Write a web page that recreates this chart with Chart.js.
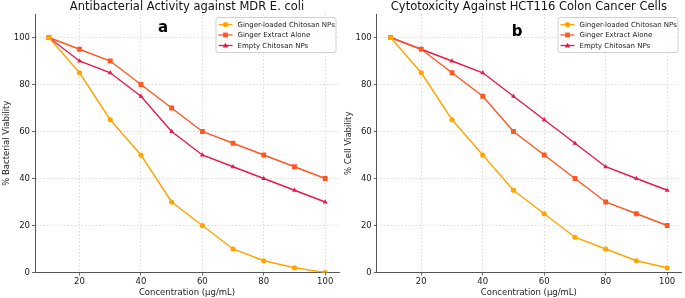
<!DOCTYPE html>
<html>
<head>
<meta charset="utf-8">
<script src="https://cdn.jsdelivr.net/npm/chart.js@4/dist/chart.umd.min.js"></script>
<style>
  html, body { margin: 0; padding: 0; background: #fff; }
  .wrap { position: relative; width: 685px; height: 298px; }
  .panel { position: absolute; top: 0; width: 343px; height: 298px; }
  #pa { left: 0; }
  #pb { left: 342px; }
</style>
</head>
<body>
<div class="wrap">
  <div class="panel" id="pa"><canvas id="chartA"></canvas></div>
  <div class="panel" id="pb"><canvas id="chartB"></canvas></div>
</div>
<script>
// concentrations (ug/mL)
var concentrations = [10, 20, 30, 40, 50, 60, 70, 80, 90, 100];
var xTicks = [20, 40, 60, 80, 100];
var yTicks = [0, 20, 40, 60, 80, 100];
var seriesNames = ['Ginger-loaded Chitosan NPs', 'Ginger Extract Alone', 'Empty Chitosan NPs'];

// panel a - antibacterial
var bactLoaded  = [100, 85, 65, 50, 30, 20, 10, 5, 2, 0];
var bactExtract = [100, 95, 90, 80, 70, 60, 55, 50, 45, 40];
var bactEmpty   = [100, 90, 85, 75, 60, 50, 45, 40, 35, 30];

// panel b - cytotoxicity
var cellLoaded  = [100, 85, 65, 50, 35, 25, 15, 10, 5, 2];
var cellExtract = [100, 95, 85, 75, 60, 50, 40, 30, 25, 20];
var cellEmpty   = [100, 95, 90, 85, 75, 65, 55, 45, 40, 35];

var colors = ['#FFA500', '#FF5722', '#E8194B'];
var markers = ['circle', 'rect', 'triangle'];
var radii = [2.6, 3.4, 2.8];
var FONT = "'DejaVu Sans', sans-serif";

function pts(vals) {
  return concentrations.map(function(c, i) { return { x: c, y: vals[i] }; });
}

function drawMarker(ctx, style, x, y, r, col) {
  ctx.fillStyle = col;
  ctx.beginPath();
  if (style === 'circle') {
    ctx.arc(x, y, r, 0, Math.PI * 2);
  } else if (style === 'rect') {
    var s = r * Math.SQRT1_2;
    ctx.rect(x - s, y - s, 2 * s, 2 * s);
  } else {
    ctx.moveTo(x, y - r);
    ctx.lineTo(x + r, y + r * 0.7);
    ctx.lineTo(x - r, y + r * 0.7);
    ctx.closePath();
  }
  ctx.fill();
}

// title over plot area, legend box, panel letter
var extras = {
  id: 'extras',
  afterDatasetsDraw: function(chart, args, opts) {
    var ctx = chart.ctx, ca = chart.chartArea;
    ctx.save();
    ctx.textAlign = 'center';
    ctx.textBaseline = 'middle';
    ctx.fillStyle = '#111';
    ctx.font = '11.5px ' + FONT;
    ctx.fillText(opts.title, (ca.left + ca.right) / 2, 7);

    // panel letter
    ctx.font = 'bold 15px ' + FONT;
    ctx.fillStyle = '#000';
    ctx.fillText(opts.letter, opts.letterX, opts.letterY);

    // legend
    var w = 120, h = 35;
    var bx = ca.right - 3.5 - w, by = ca.top + 3;
    ctx.fillStyle = 'rgba(255,255,255,0.85)';
    ctx.strokeStyle = '#d0d0d0';
    ctx.lineWidth = 1;
    ctx.beginPath();
    ctx.roundRect(bx + 0.5, by + 0.5, w, h, 2);
    ctx.fill();
    ctx.stroke();
    ctx.font = '7px ' + FONT;
    ctx.textAlign = 'left';
    chart.data.datasets.forEach(function(ds, i) {
      var yy = by + 7.5 + i * 10.5;
      ctx.strokeStyle = ds.borderColor;
      ctx.lineWidth = 1.3;
      ctx.beginPath();
      ctx.moveTo(bx + 3, yy);
      ctx.lineTo(bx + 17, yy);
      ctx.stroke();
      drawMarker(ctx, markers[i], bx + 10, yy, radii[i], ds.borderColor);
      ctx.fillStyle = '#222';
      ctx.fillText(ds.label, bx + 22, yy + 0.5);
    });
    ctx.restore();
  }
};

function makeChart(id, title, yLabel, series, letter, lx, ly, leftW, rightPad) {
  var datasets = series.map(function(vals, i) {
    return {
      label: seriesNames[i],
      data: pts(vals),
      borderColor: colors[i],
      backgroundColor: colors[i],
      borderWidth: 1.4,
      pointStyle: markers[i],
      pointRadius: radii[i],
      pointBorderWidth: 0,
      tension: 0
    };
  });
  return new Chart(document.getElementById(id), {
    type: 'line',
    data: { datasets: datasets },
    plugins: [extras],
    options: {
      responsive: true,
      maintainAspectRatio: false,
      animation: false,
      events: [],
      layout: { padding: { left: 0, right: rightPad, top: 14, bottom: 0 } },
      plugins: {
        legend: { display: false },
        tooltip: { enabled: false },
        title: { display: false },
        extras: { title: title, letter: letter, letterX: lx, letterY: ly }
      },
      scales: {
        x: {
          type: 'linear',
          min: 5.5,
          max: 104.5,
          afterBuildTicks: function(s) { s.ticks = xTicks.map(function(v) { return { value: v }; }); },
          afterFit: function(s) { s.height = 25.5; },
          ticks: { color: '#222', font: { family: FONT, size: 8.5 }, padding: 1, maxRotation: 0 },
          grid: { color: '#d2d2d2', lineWidth: 0.8, tickLength: 3, tickColor: '#444' },
          border: { color: '#555', width: 1, dash: [1.5, 2] },
          title: { display: true, text: 'Concentration (\u03bcg/mL)', color: '#222', font: { family: FONT, size: 8.5 }, padding: { top: 0, bottom: 0 } }
        },
        y: {
          min: 0,
          max: 110,
          afterBuildTicks: function(s) { s.ticks = yTicks.map(function(v) { return { value: v }; }); },
          afterFit: function(s) { s.width = leftW; },
          ticks: { color: '#222', font: { family: FONT, size: 8.5 }, padding: 2 },
          grid: { color: '#d2d2d2', lineWidth: 0.8, tickLength: 3, tickColor: '#444' },
          border: { color: '#555', width: 1, dash: [1.5, 2] },
          title: { display: true, text: yLabel, color: '#222', font: { family: FONT, size: 8.5 }, padding: { top: 2, bottom: 2 } }
        }
      }
    }
  });
}

makeChart('chartA', 'Antibacterial Activity against MDR E. coli', '% Bacterial Viability',
  [bactLoaded, bactExtract, bactEmpty], 'a', 163, 28, 35, 2.5);
makeChart('chartB', 'Cytotoxicity Against HCT116 Colon Cancer Cells', '% Cell Viability',
  [cellLoaded, cellExtract, cellEmpty], 'b', 175, 32, 34.7, 2);
</script>
</body>
</html>
